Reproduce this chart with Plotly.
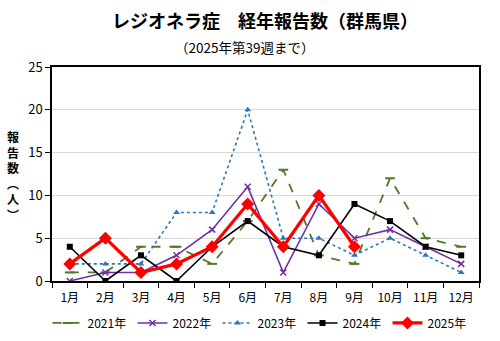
import plotly.graph_objects as go

months = ["1月", "2月", "3月", "4月", "5月", "6月", "7月", "8月", "9月", "10月", "11月", "12月"]
y2021 = [1, 1, 4, 4, 2, 7, 13, 3, 2, 12, 5, 4]
y2022 = [0, 1, 1, 3, 6, 11, 1, 9, 5, 6, 4, 2]
y2023 = [2, 2, 2, 8, 8, 20, 5, 5, 3, 5, 3, 1]
y2024 = [4, 0, 3, 0, 4, 7, 4, 3, 9, 7, 4, 3]
y2025 = [2, 5, 1, 2, 4, 9, 4, 10, 4]

FONT = "Noto Sans CJK JP"

fig = go.Figure()
fig.add_trace(go.Scatter(x=months, y=y2021, name="2021年", mode="lines+markers",
                         line=dict(color="#4e7a2a", width=1.8, dash="dash"),
                         marker=dict(symbol="line-ew-open", size=7, line=dict(color="#4e7a2a", width=2))))
fig.add_trace(go.Scatter(x=months, y=y2022, name="2022年", mode="lines+markers",
                         line=dict(color="#7030a0", width=1.6),
                         marker=dict(symbol="x-thin-open", size=6, line=dict(color="#7030a0", width=1.5))))
fig.add_trace(go.Scatter(x=months, y=y2023, name="2023年", mode="lines+markers",
                         line=dict(color="#2e75b6", width=1.6, dash="dot"),
                         marker=dict(symbol="triangle-up", size=6, color="#2e75b6")))
fig.add_trace(go.Scatter(x=months, y=y2024, name="2024年", mode="lines+markers",
                         line=dict(color="#000000", width=1.6),
                         marker=dict(symbol="square", size=6, color="#000000")))
fig.add_trace(go.Scatter(x=months[:len(y2025)], y=y2025, name="2025年", mode="lines+markers",
                         line=dict(color="#ff0000", width=3.2),
                         marker=dict(symbol="diamond", size=10, color="#ff0000")))

fig.update_layout(
    width=500, height=341,
    margin=dict(l=52, r=21, t=67, b=60, autoexpand=False),
    paper_bgcolor="white", plot_bgcolor="white",
    font=dict(family=FONT, size=12, color="#000000"),
    showlegend=True,
    legend=dict(orientation="h", x=0.52, xanchor="center", xref="container",
                y=0.053, yanchor="middle", yref="container",
                font=dict(size=12), itemwidth=30, entrywidth=40, entrywidthmode="pixels",
                tracegroupgap=0, bgcolor="rgba(0,0,0,0)"),
    xaxis=dict(type="category", showline=True, linecolor="#000000", linewidth=1.5, mirror=True,
               ticks="outside", ticklen=5, tickcolor="#000000", tickson="boundaries",
               showgrid=False, tickfont=dict(size=12, family=FONT), range=[-0.5, 11.5],
               ticklabelstandoff=5),
    yaxis=dict(range=[0, 25], dtick=5, showline=True, linecolor="#000000", linewidth=1.5, mirror=True,
               ticks="outside", ticklen=5, tickcolor="#000000",
               showgrid=True, gridcolor="#d9d9d9", gridwidth=1,
               tickfont=dict(size=13, family=FONT), zeroline=False),
    annotations=[
        dict(text="<b>レジオネラ症　経年報告数（群馬県）</b>", x=0.499, y=1.2196, xref="paper", yref="paper",
             showarrow=False, font=dict(size=18, family=FONT), xanchor="center", yanchor="middle"),
        dict(text="（2025年第39週まで）", x=0.45, y=1.0935, xref="paper", yref="paper",
             showarrow=False, font=dict(size=13.5, family=FONT), xanchor="center", yanchor="middle"),
        dict(text="<b>報<br>告<br>数<br>︵<br>人<br>︶</b>", xref="paper", yref="paper", x=-0.091, y=0.495,
             showarrow=False, font=dict(size=12, family=FONT), xanchor="center", yanchor="middle"),
    ],
)
fig.write_html("out.html")
